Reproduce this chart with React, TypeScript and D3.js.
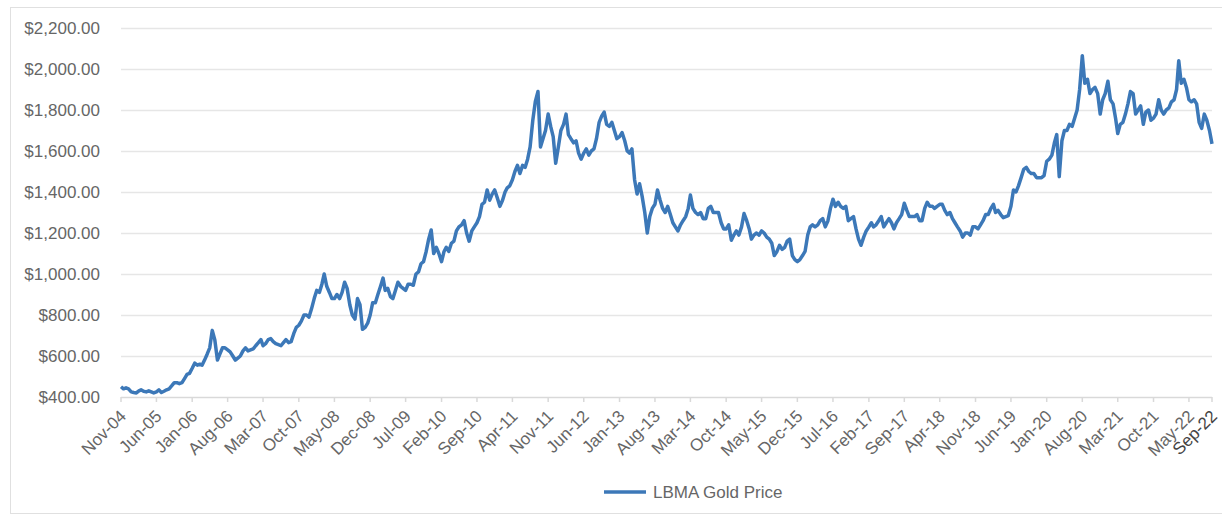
import React, { useEffect, useRef } from 'react';
import * as d3 from 'd3';

// half-monthly LBMA gold price readings (1st and 16th of each month), USD/oz
const prices2004 = [450, 440, 445, 440];
const prices2005 = [425, 422, 420, 430, 435, 428, 425, 430, 425, 420, 425, 435, 422, 428, 435, 440, 455, 470, 470, 465, 470, 490, 510, 515];
const prices2006 = [540, 565, 555, 560, 555, 580, 610, 640, 725, 680, 580, 610, 640, 640, 630, 620, 600, 580, 590, 600, 625, 640, 625, 630];
const prices2007 = [635, 650, 665, 680, 650, 660, 680, 685, 670, 660, 655, 650, 665, 680, 665, 670, 710, 740, 750, 770, 800, 800, 790, 830];
const prices2008 = [880, 920, 910, 950, 1000, 940, 910, 880, 880, 900, 880, 910, 960, 930, 850, 800, 780, 880, 850, 730, 740, 760, 800, 860];
const prices2009 = [860, 900, 940, 980, 920, 930, 890, 880, 920, 960, 940, 930, 920, 950, 950, 945, 1000, 1010, 1050, 1060, 1110, 1170, 1215, 1100];
const prices2010 = [1130, 1100, 1060, 1110, 1130, 1110, 1150, 1160, 1210, 1230, 1240, 1260, 1200, 1160, 1210, 1230, 1250, 1280, 1340, 1350, 1410, 1360, 1390, 1410];
const prices2011 = [1370, 1330, 1360, 1400, 1420, 1430, 1460, 1500, 1530, 1490, 1530, 1520, 1560, 1620, 1750, 1840, 1890, 1620, 1660, 1700, 1780, 1720, 1670, 1540];
const prices2012 = [1620, 1700, 1730, 1780, 1680, 1660, 1640, 1650, 1590, 1560, 1590, 1610, 1580, 1600, 1610, 1660, 1740, 1770, 1790, 1730, 1720, 1740, 1700, 1660];
const prices2013 = [1670, 1690, 1650, 1600, 1590, 1610, 1460, 1390, 1440, 1380, 1300, 1200, 1280, 1320, 1340, 1410, 1360, 1320, 1300, 1330, 1290, 1250, 1230, 1210];
const prices2014 = [1240, 1260, 1280, 1320, 1385, 1320, 1300, 1290, 1300, 1270, 1270, 1320, 1330, 1300, 1300, 1300, 1250, 1220, 1220, 1240, 1165, 1190, 1210, 1190];
const prices2015 = [1230, 1295, 1260, 1220, 1170, 1190, 1200, 1190, 1210, 1200, 1180, 1170, 1150, 1090, 1110, 1140, 1120, 1130, 1160, 1170, 1090, 1070, 1060, 1070];
const prices2016 = [1090, 1110, 1190, 1230, 1240, 1230, 1240, 1260, 1270, 1230, 1260, 1320, 1365, 1330, 1350, 1330, 1320, 1330, 1260, 1270, 1280, 1220, 1170, 1140];
const prices2017 = [1180, 1210, 1230, 1250, 1230, 1240, 1260, 1280, 1230, 1250, 1270, 1250, 1220, 1250, 1270, 1290, 1345, 1310, 1280, 1280, 1280, 1290, 1260, 1260];
const prices2018 = [1320, 1350, 1330, 1330, 1320, 1330, 1340, 1340, 1310, 1290, 1300, 1270, 1250, 1230, 1210, 1180, 1200, 1200, 1190, 1230, 1230, 1220, 1240, 1260];
const prices2019 = [1290, 1290, 1320, 1340, 1300, 1310, 1290, 1275, 1280, 1285, 1330, 1410, 1400, 1430, 1470, 1510, 1520, 1500, 1490, 1490, 1470, 1470, 1470, 1480];
const prices2020 = [1550, 1560, 1580, 1640, 1680, 1475, 1650, 1700, 1700, 1730, 1720, 1760, 1800, 1900, 2065, 1930, 1950, 1880, 1900, 1910, 1880, 1780, 1850, 1880];
const prices2021 = [1940, 1850, 1830, 1760, 1685, 1730, 1740, 1780, 1830, 1890, 1880, 1780, 1800, 1820, 1730, 1790, 1800, 1750, 1760, 1780, 1850, 1800, 1780, 1800];
const prices2022 = [1810, 1840, 1850, 1900, 2040, 1930, 1950, 1910, 1850, 1840, 1850, 1830, 1740, 1710, 1780, 1750, 1700, 1635];

const prices = [
  ...prices2004, ...prices2005, ...prices2006, ...prices2007, ...prices2008, ...prices2009,
  ...prices2010, ...prices2011, ...prices2012, ...prices2013, ...prices2014, ...prices2015,
  ...prices2016, ...prices2017, ...prices2018, ...prices2019, ...prices2020, ...prices2021,
  ...prices2022,
];

const yTicks = [400, 600, 800, 1000, 1200, 1400, 1600, 1800, 2000, 2200];
const xTickLabels = [
  'Nov-04', 'Jun-05', 'Jan-06', 'Aug-06', 'Mar-07', 'Oct-07', 'May-08', 'Dec-08', 'Jul-09', 'Feb-10',
  'Sep-10', 'Apr-11', 'Nov-11', 'Jun-12', 'Jan-13', 'Aug-13', 'Mar-14', 'Oct-14', 'May-15', 'Dec-15',
  'Jul-16', 'Feb-17', 'Sep-17', 'Apr-18', 'Nov-18', 'Jun-19', 'Jan-20', 'Aug-20', 'Mar-21', 'Oct-21',
  'May-22', 'Sep-22',
];
const seriesName = 'LBMA Gold Price';

const parseLabel = d3.timeParse('%b-%y');
const pointDate = (i: number) => new Date(2004, 10 + Math.floor(i / 2), i % 2 ? 16 : 1);

const App: React.FC = () => {
  const svgRef = useRef<SVGSVGElement>(null);
  const width = 1222;
  const height = 517;

  useEffect(() => {
    if (!svgRef.current) return;
    const svg = d3.select(svgRef.current);
    svg.selectAll('*').remove();

    const font = '"Liberation Sans", Arial, sans-serif';
    const textColor = '#666666';
    const lineColor = '#3c78b8';

    // chart area border
    svg.append('rect')
      .attr('x', 10.5)
      .attr('y', 7.5)
      .attr('width', width)
      .attr('height', 506)
      .attr('fill', '#ffffff')
      .attr('stroke', '#e0e0e0');

    const left = 121;
    const right = 1212;
    const top = 28;
    const bottom = 397;

    const data = prices.map((v, i) => ({ date: pointDate(i), value: v }));
    const first = data[0].date;
    const last = data[data.length - 1].date;

    const x = d3.scaleTime().domain([first, last]).range([left, right]);
    const y = d3.scaleLinear().domain([400, 2200]).range([bottom, top]);

    // gridlines
    svg.append('g')
      .selectAll('line')
      .data(yTicks.slice(1))
      .enter()
      .append('line')
      .attr('x1', left)
      .attr('x2', right)
      .attr('y1', d => Math.round(y(d)) + 0.5)
      .attr('y2', d => Math.round(y(d)) + 0.5)
      .attr('stroke', '#e6e6e6')
      .attr('stroke-width', 1.5);

    // y labels
    svg.append('g')
      .selectAll('text')
      .data(yTicks)
      .enter()
      .append('text')
      .attr('x', 100)
      .attr('y', d => y(d))
      .attr('dy', '0.35em')
      .attr('text-anchor', 'end')
      .style('font-family', font)
      .style('font-size', '17px')
      .style('fill', textColor)
      .text(d => d3.format('$,.2f')(d));

    // x axis line and ticks
    svg.append('line')
      .attr('x1', left)
      .attr('x2', right)
      .attr('y1', Math.round(bottom) + 0.5)
      .attr('y2', Math.round(bottom) + 0.5)
      .attr('stroke', '#d9d9d9')
      .attr('stroke-width', 1.5);

    const tickDates = xTickLabels.map((l, i) => (i === xTickLabels.length - 1 ? last : (parseLabel(l) as Date)));

    svg.append('g')
      .selectAll('line')
      .data(tickDates)
      .enter()
      .append('line')
      .attr('x1', d => x(d))
      .attr('x2', d => x(d))
      .attr('y1', bottom)
      .attr('y2', bottom + 5)
      .attr('stroke', '#d9d9d9')
      .attr('stroke-width', 1.5);

    svg.append('g')
      .selectAll('text')
      .data(xTickLabels)
      .enter()
      .append('text')
      .attr('transform', (d, i) => `translate(${x(tickDates[i]) + 2},${bottom + 16}) rotate(-45)`)
      .attr('text-anchor', 'end')
      .attr('dy', '0.35em')
      .style('font-family', font)
      .style('font-size', '17px')
      .style('fill', (d, i) => (i === xTickLabels.length - 1 ? '#444444' : textColor))
      .text(d => d);

    // price line
    const line = d3.line<{ date: Date; value: number }>()
      .x(d => x(d.date))
      .y(d => y(d.value));

    svg.append('path')
      .datum(data)
      .attr('d', line)
      .attr('fill', 'none')
      .attr('stroke', lineColor)
      .attr('stroke-width', 3.5)
      .attr('stroke-linejoin', 'round');

    // legend
    const legend = svg.append('g').attr('transform', 'translate(604,492)');
    legend.append('line')
      .attr('x1', 0)
      .attr('x2', 42)
      .attr('stroke', lineColor)
      .attr('stroke-width', 3.5);
    legend.append('text')
      .attr('x', 49)
      .attr('dy', '0.35em')
      .style('font-family', font)
      .style('font-size', '17px')
      .style('fill', textColor)
      .text(seriesName);
  }, []);

  return (
    <svg
      ref={svgRef}
      width={width}
      height={height}
      style={{ position: 'absolute', left: 0, top: 0, background: '#ffffff' }}
    />
  );
};

export default App;
